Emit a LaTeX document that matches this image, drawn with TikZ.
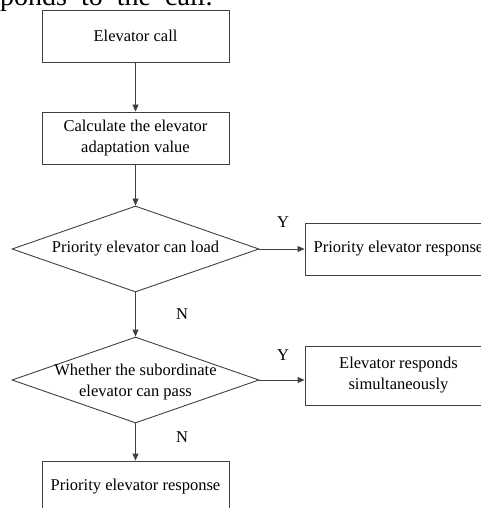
\documentclass[tikz,border=0pt]{standalone}
\usepackage{fontspec}
\setmainfont{Liberation Serif}
\usetikzlibrary{arrows.meta,shapes.geometric}
\definecolor{lc}{RGB}{64,64,64}
\begin{document}
\begin{tikzpicture}[x=1pt,y=-1pt,
  every node/.style={font=\fontsize{16.5}{21}\selectfont, text=black},
  procbox/.style={draw=lc, line width=0.9pt, minimum width=187pt, minimum height=52pt, inner sep=0pt, align=center},
  decision/.style={draw=lc, line width=0.9pt, diamond, minimum width=247pt, minimum height=86pt, inner sep=0pt},
  arr/.style={draw=lc, line width=0.9pt, -{Triangle[length=7pt,width=6pt]}},
  lbl/.style={inner sep=0pt}]
\clip (0,0) rectangle (481,508);
\node[anchor=base west, inner sep=0pt, font=\fontsize{28}{32}\selectfont] (toptext) at (0,5.5) {ponds\hspace{0.25em} to\hspace{0.25em} the\hspace{0.25em} call.};
\node[procbox] (b1) at (135.5,36) {Elevator call};
\node[procbox] (b2) at (135.5,138) {Calculate the elevator\\adaptation value};
\node[decision] (d1) at (135.5,249) {};
\node[lbl] (d1t) at (d1.center) {Priority elevator can load};
\node[procbox] (b3) at (398.5,249) {Priority elevator response};
\node[decision] (d2) at (135.5,380) {};
\node[lbl, align=center] (d2t) at (135.5,382) {Whether the subordinate\\elevator can pass};
\node[procbox, minimum height=59pt] (b4) at (398.5,375.5) {Elevator responds\\simultaneously};
\node[procbox] (b5) at (135.5,487) {Priority elevator response};
\node[lbl] (y1) at (283,222) {Y};
\node[lbl] (n1) at (182,314) {N};
\node[lbl] (y2) at (283,355) {Y};
\node[lbl] (n2) at (182,437) {N};
\draw[arr] (b1) -- (b2);
\draw[arr] (b2) -- (d1);
\draw[arr] (d1.east) -- (b3);
\draw[arr] (d1) -- (d2);
\draw[arr] (d2.east) -- (d2.east -| b4.west);
\draw[arr] (d2) -- (b5);
\end{tikzpicture}
\end{document}
